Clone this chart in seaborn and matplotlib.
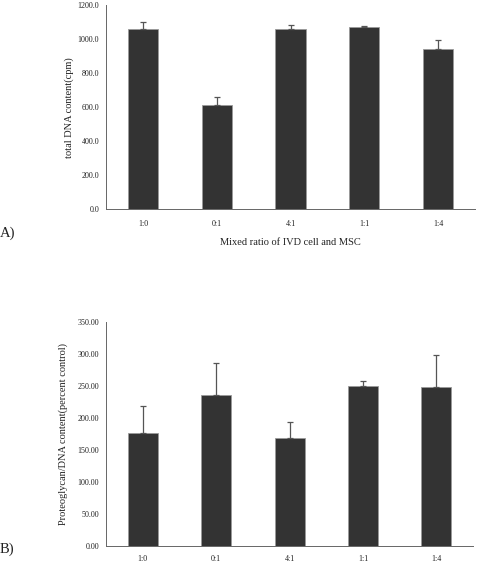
import matplotlib
matplotlib.use("Agg")
import matplotlib.pyplot as plt
import matplotlib.ticker as mticker
import seaborn as sns
import pandas as pd

categories = ["1:0", "0:1", "4:1", "1:1", "1:4"]
dna_values = [1058, 614, 1060, 1070, 940]
dna_errors = [40, 48, 24, 8, 54]
pg_values = [176.5, 236, 168, 249, 248]
pg_errors = [42, 50, 26, 8, 50]

sns.set_theme(style="white")
plt.rcParams['font.family'] = ['Liberation Serif', 'DejaVu Serif']

fig = plt.figure(figsize=(4.83, 5.73), dpi=100)
ax1 = fig.add_axes([0.2195, 0.635, 0.764, 0.356])
ax2 = fig.add_axes([0.2195, 0.0476, 0.760, 0.391])

bar_color = "#333333"
edge_color = "#9a9a9a"
axis_color = "#666666"

def draw(ax, vals, errs, ymax, step, fmt, ylabel, xlabel, ylpad, xpad):
    df = pd.DataFrame({"cat": categories, "val": vals})
    sns.barplot(data=df, x="cat", y="val", ax=ax, color=bar_color,
                width=0.41, edgecolor=edge_color, linewidth=0.6,
                saturation=1, errorbar=None)
    ax.errorbar(range(len(categories)), vals, yerr=[[0]*len(errs), errs],
                fmt="none", ecolor="#555555", elinewidth=0.9, capsize=2.5,
                capthick=0.9)
    ax.set_xlim(-0.5, len(categories) - 0.5)
    ax.set_ylim(0, ymax)
    ax.yaxis.set_major_locator(mticker.MultipleLocator(step))
    ax.yaxis.set_major_formatter(mticker.FormatStrFormatter(fmt))
    ax.set_xticks(range(len(categories)))
    ax.set_xticklabels(categories)
    ax.set_xticks([i + 0.5 for i in range(len(categories))], minor=True)
    ax.tick_params(axis="x", which="major", length=0, labelsize=5.8,
                   pad=xpad, colors="#222222")
    ax.tick_params(axis="x", which="minor", length=3, width=0.6,
                   color=axis_color, direction="out")
    ax.tick_params(axis="y", which="major", length=3, width=0.6,
                   color=axis_color, direction="out", labelsize=5.8,
                   pad=2, labelcolor="#222222")
    for s in ["top", "right"]:
        ax.spines[s].set_visible(False)
    for s in ["left", "bottom"]:
        ax.spines[s].set_color(axis_color)
        ax.spines[s].set_linewidth(0.7)
    ax.set_ylabel(ylabel, fontsize=7.5, color="#222222", labelpad=ylpad)
    ax.set_xlabel(xlabel, fontsize=7.5, color="#222222", labelpad=7)

draw(ax1, dna_values, dna_errors, 1200, 200, "%.1f",
     "total DNA content(cpm)", "Mixed ratio of IVD cell and MSC", 2.5, 8)
draw(ax2, pg_values, pg_errors, 350, 50, "%.2f",
     "Proteoglycan/DNA content(percent control)", "", 7, 7)

fig.text(0.0, 1 - 233 / 573, "A)", fontsize=10.5, va="center", ha="left",
         color="#222222")
fig.text(0.0, 1 - 549 / 573, "B)", fontsize=10.5, va="center", ha="left",
         color="#222222")

fig.savefig("out.png", dpi=100)
